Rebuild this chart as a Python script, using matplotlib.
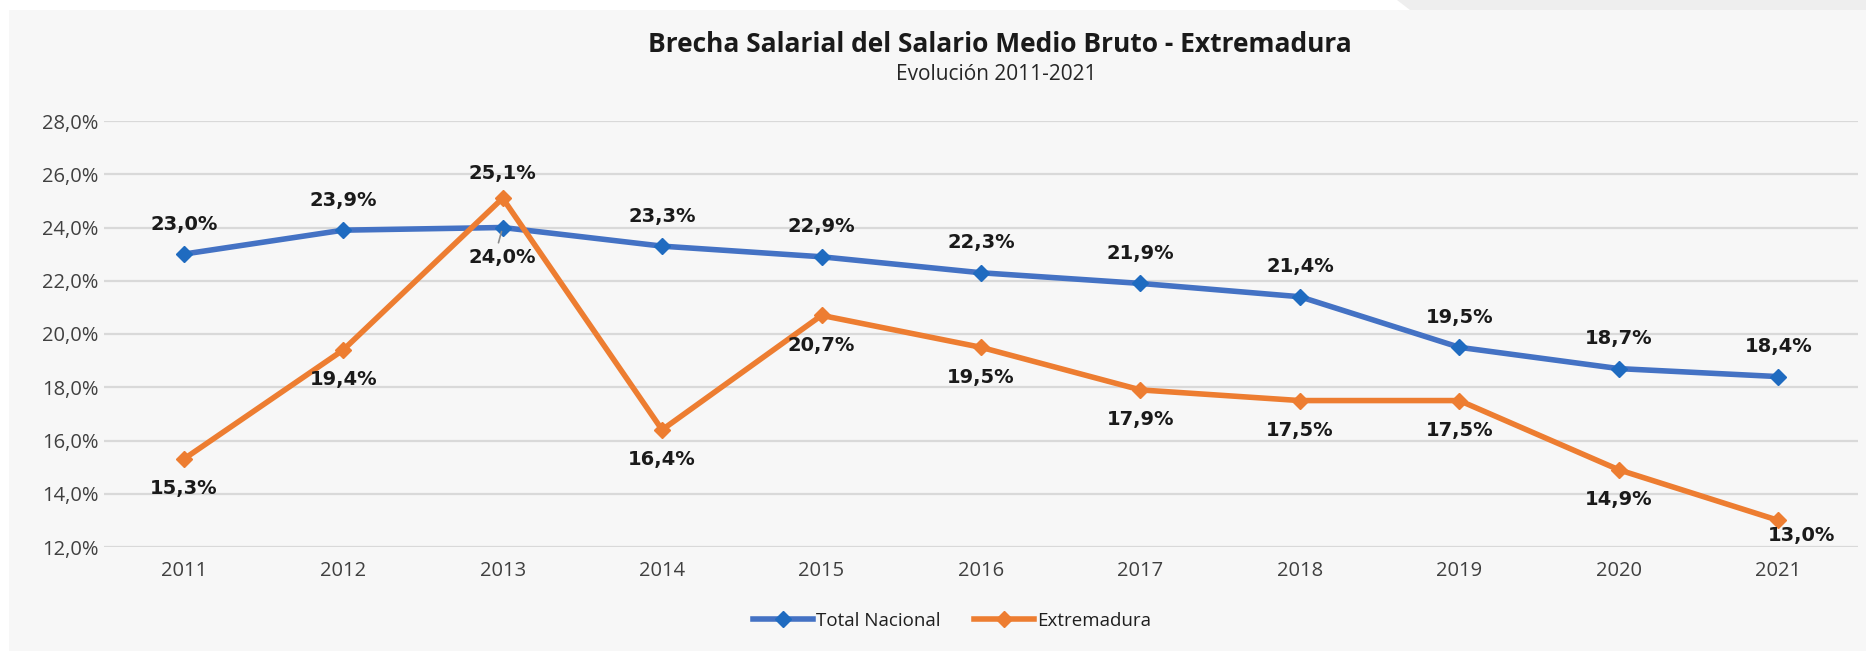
import matplotlib
matplotlib.use("Agg")
import matplotlib.pyplot as plt
from matplotlib.patches import Rectangle, Polygon

years = ["2011", "2012", "2013", "2014", "2015", "2016", "2017", "2018", "2019", "2020", "2021"]
total_nacional = [23.0, 23.9, 24.0, 23.3, 22.9, 22.3, 21.9, 21.4, 19.5, 18.7, 18.4]
extremadura = [15.3, 19.4, 25.1, 16.4, 20.7, 19.5, 17.9, 17.5, 17.5, 14.9, 13.0]
yticks = [12, 14, 16, 18, 20, 22, 24, 26, 28]

title = "Brecha Salarial del Salario Medio Bruto - Extremadura"
subtitle = "Evolución 2011-2021"

W, H = 1866, 651
fig = plt.figure(figsize=(W / 100, H / 100), dpi=100, facecolor="white")

# background panels in a full-figure axes behind everything
bg = fig.add_axes([0, 0, 1, 1], zorder=-10)
bg.set_xlim(0, W)
bg.set_ylim(H, 0)
bg.axis("off")
bg.add_patch(Rectangle((9, 10), W - 9, H - 10, facecolor="#f7f7f7", edgecolor="none"))
bg.add_patch(Polygon([(1397, 0), (W, 0), (W, 10), (1410, 10)], closed=True,
                     facecolor="#eeeeee", edgecolor="none"))

left, right = 104 / W, 1858 / W
bottom, top = 1 - 547 / H, 1 - 121 / H
ax = fig.add_axes([left, bottom, right - left, top - bottom], zorder=2)
ax.set_facecolor("none")

x = list(range(len(years)))
blue_line, blue_mk = "#4472C4", "#1F6BC0"
orange = "#ED7D31"

ax.plot(x, total_nacional, color=blue_line, lw=4, marker="D", ms=8,
        markerfacecolor=blue_mk, markeredgecolor=blue_mk, label="Total Nacional", zorder=3,
        solid_joinstyle="round")
ax.plot(x, extremadura, color=orange, lw=4, marker="D", ms=8,
        markerfacecolor=orange, markeredgecolor=orange, label="Extremadura", zorder=4,
        solid_joinstyle="round")

ax.set_xlim(-0.5, len(years) - 0.5)
ax.set_ylim(12, 28)
ax.set_yticks(yticks)
ax.set_yticklabels([f"{v:.1f}".replace(".", ",") + "%" for v in yticks])
ax.set_xticks(x)
ax.set_xticklabels(years)
ax.tick_params(length=0, labelsize=14.5, labelcolor="#404040")
ax.tick_params(axis="x", pad=10)
ax.tick_params(axis="y", pad=4)
for lab in ax.get_xticklabels() + ax.get_yticklabels():
    lab.set_fontfamily("Open Sans")
ax.grid(axis="y", color="#d9d9d9", lw=1.6)
ax.set_axisbelow(True)
for s in ax.spines.values():
    s.set_visible(False)

def fmt(v):
    return f"{v:.1f}".replace(".", ",") + "%"

lab_kw = dict(textcoords="offset points", ha="center", va="center",
              fontsize=14, fontweight="bold", color="#1a1a1a", family="DejaVu Sans", zorder=6)
off = 21.5
for i, v in enumerate(total_nacional):
    dy = -off if years[i] == "2013" else off
    ax.annotate(fmt(v), (i, v), xytext=(0, dy), **lab_kw)
for i, v in enumerate(extremadura):
    if years[i] == "2013":
        ax.annotate(fmt(v), (i, v), xytext=(0, 17.5), **lab_kw)
    elif years[i] == "2021":
        ax.annotate(fmt(v), (i, v), xytext=(17, -11), **lab_kw)
    else:
        ax.annotate(fmt(v), (i, v), xytext=(0, -off), **lab_kw)

# small leader line for 2013 Total Nacional label
i13 = years.index("2013")
ax.annotate("", xy=(i13, total_nacional[i13]), xytext=(-3, -11), textcoords="offset points",
            arrowprops=dict(arrowstyle="-", color="#8c8c8c", lw=1.2, shrinkA=0, shrinkB=3), zorder=5)

fig.text(1000 / W, 1 - 44 / H, title, ha="center", va="center", fontsize=19,
         fontweight="bold", family="Open Sans", color="#1a1a1a")
fig.text(996 / W, 1 - 74 / H, subtitle, ha="center", va="center", fontsize=15,
         family="Open Sans", color="#262626")

leg = fig.legend(loc="center", bbox_to_anchor=(952 / W, 1 - 621 / H), ncol=2, frameon=False,
                 prop={"family": "Open Sans", "size": 13.5}, handlelength=3.2, columnspacing=1.8,
                 handletextpad=0.15)
for t in leg.get_texts():
    t.set_color("#1f1f1f")

fig.savefig("out.png", dpi=100, facecolor=fig.get_facecolor())
